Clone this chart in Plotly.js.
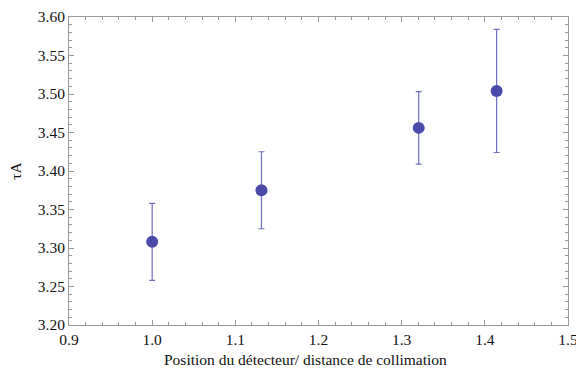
<!DOCTYPE html>
<html><head><meta charset="utf-8">
<script src="https://cdn.plot.ly/plotly-3.0.1.min.js"></script>
<style>html,body{margin:0;padding:0;background:#fff;}#chart{width:576px;height:373px;}</style>
</head><body><div id="chart"></div>
<script>
const positions = [1.0, 1.1314, 1.3205, 1.4142];
const tauA = [3.308, 3.375, 3.456, 3.504];
const errors = [0.05, 0.05, 0.047, 0.08];
const xTicks = [0.9, 1.0, 1.1, 1.2, 1.3, 1.4, 1.5];
const yTicks = [3.20, 3.25, 3.30, 3.35, 3.40, 3.45, 3.50, 3.55, 3.60];
const xTitle = 'Position du détecteur/ distance de collimation';
const yTitle = 'τA';

const trace = {
  x: positions, y: tauA, type: 'scatter', mode: 'markers',
  marker: {size: 12, color: '#4a4aa8'},
  error_y: {type: 'data', array: errors, visible: true, color: '#6e6ebf', thickness: 1.2, width: 3}
};
const font = {family: 'Liberation Serif', size: 15.5, color: '#111'};
const axisCommon = {
  showgrid: false, zeroline: false, showline: true, linecolor: '#999', linewidth: 1,
  mirror: 'ticks', ticks: 'inside', ticklen: 5, tickcolor: '#999', tickwidth: 1,
  tickfont: font
};
const layout = {
  width: 576, height: 373,
  margin: {l: 69, r: 8, t: 17, b: 48},
  paper_bgcolor: '#fff', plot_bgcolor: '#fff',
  showlegend: false,
  font: font,
  xaxis: Object.assign({}, axisCommon, {
    range: [0.9, 1.5], tickvals: xTicks, ticktext: xTicks.map(v => v.toFixed(1)),
    ticklabeloverflow: 'allow',
    minor: {dtick: 0.02, ticklen: 3, tickcolor: '#999', ticks: 'inside'}
  }),
  yaxis: Object.assign({}, axisCommon, {
    range: [3.2, 3.6], tickvals: yTicks, ticktext: yTicks.map(v => v.toFixed(2)),
    minor: {dtick: 0.01, ticklen: 3, tickcolor: '#999', ticks: 'inside'},
    title: {text: yTitle, font: font, standoff: 12}
  }),
  annotations: [{
    text: xTitle, xref: 'paper', yref: 'paper', x: 0.473, y: 0,
    xanchor: 'center', yanchor: 'middle', yshift: -34, showarrow: false, font: font
  }]
};
Plotly.newPlot('chart', [trace], layout, {displayModeBar: false, staticPlot: true});
</script></body></html>
